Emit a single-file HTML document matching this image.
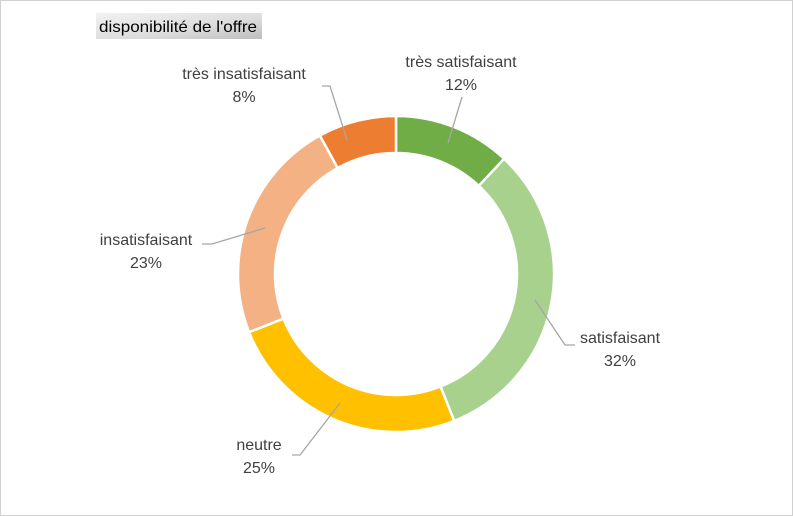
<!DOCTYPE html>
<html><head><meta charset="utf-8"><style>
body{margin:0;background:#fff;}
svg{display:block;font-family:"Liberation Sans",sans-serif;}
</style></head><body>
<svg width="793" height="516" viewBox="0 0 793 516" xmlns="http://www.w3.org/2000/svg">
<defs><linearGradient id="g" x1="0" y1="0" x2="1" y2="1"><stop offset="0" stop-color="#f2f2f2"/><stop offset="0.6" stop-color="#dcdcdc"/><stop offset="1" stop-color="#bdbdbd"/></linearGradient></defs>
<rect x="0.5" y="0.5" width="792" height="515" fill="#fff" stroke="#d0d0d0"/>
<rect x="96" y="13" width="166" height="26" fill="url(#g)"/>
<text x="99" y="32" font-size="16" fill="#000" textLength="158" lengthAdjust="spacingAndGlyphs">disponibilité de l'offre</text>
<g id="d"></g>
<g stroke="#a6a6a6" stroke-width="1.3" fill="none">
<polyline points="448,143 462,97"/>
<polyline points="535,300 565,345 575,345"/>
<polyline points="340,403 300,455 292,455"/>
<polyline points="265,228 212,244 202,244"/>
<polyline points="347,140 330,86 322,86"/>
</g>
<g font-size="16" fill="#404040" text-anchor="middle">
<text x="461" y="67">très satisfaisant</text><text x="461" y="90">12%</text>
<text x="620" y="343">satisfaisant</text><text x="620" y="366">32%</text>
<text x="259" y="450">neutre</text><text x="259" y="473">25%</text>
<text x="146" y="245">insatisfaisant</text><text x="146" y="268">23%</text>
<text x="244" y="79">très insatisfaisant</text><text x="244" y="102">8%</text>
</g>
</svg>
<script>
(function(){
var cx=396,cy=274,R=158,r=121;
var v=[12,32,25,23,8],c=["#70AD47","#A9D18E","#FFC000","#F4B183","#ED7D31"];
var a=0,h="";
function p(rad,ang){return [cx+rad*Math.sin(ang),cy-rad*Math.cos(ang)];}
for(var i=0;i<v.length;i++){
var a0=a/100*2*Math.PI;a+=v[i];var a1=a/100*2*Math.PI;
var l=(a1-a0)>Math.PI?1:0;
var p1=p(R,a0),p2=p(R,a1),p3=p(r,a1),p4=p(r,a0);
h+='<path d="M'+p1+' A'+R+','+R+' 0 '+l+' 1 '+p2+' L'+p3+' A'+r+','+r+' 0 '+l+' 0 '+p4+' Z" fill="'+c[i]+'" stroke="#fff" stroke-width="2.5"/>';
}
document.getElementById('d').innerHTML=h;
})();
</script>
</body></html>
